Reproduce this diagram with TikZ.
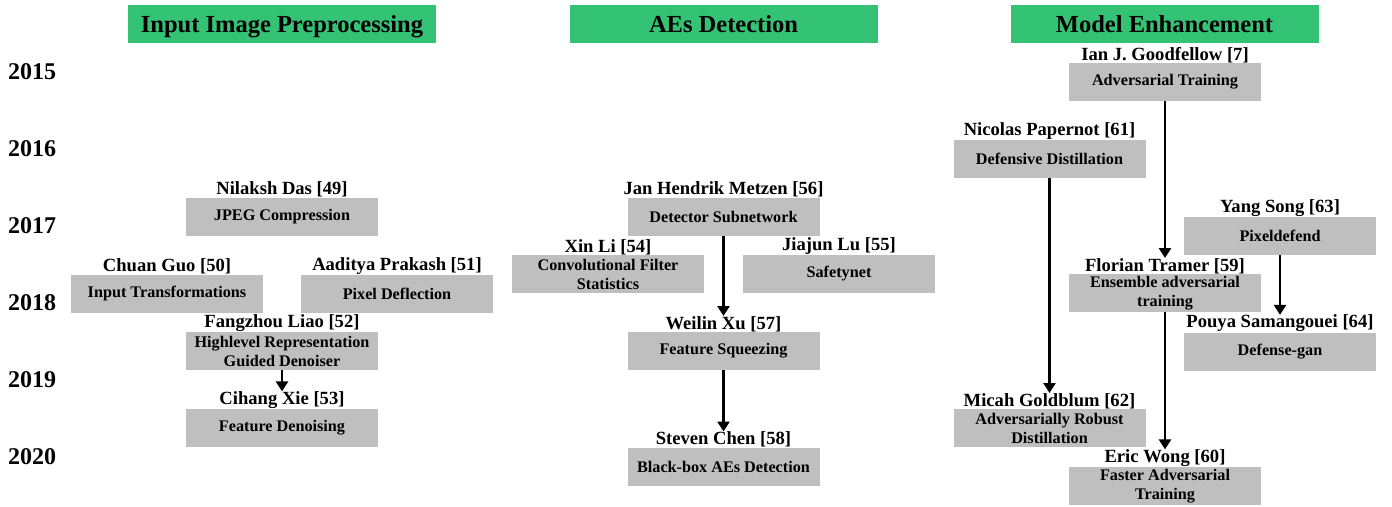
\documentclass[tikz,border=0pt]{standalone}
\usepackage{fontspec}
\setmainfont{Liberation Serif}
\usetikzlibrary{positioning,arrows.meta}
\definecolor{headgreen}{RGB}{52,194,117}
\definecolor{boxgray}{RGB}{191,191,191}
\tikzset{
	head/.style={fill=headgreen, minimum width=308, minimum height=38, inner sep=0pt,
		text depth=0pt, font=\fontsize{24.5}{26}\selectfont\bfseries},
	work/.style={fill=boxgray, minimum width=192, minimum height=38, inner sep=0pt,
		align=center, font=\fontsize{16.2}{19}\selectfont\bfseries},
	who/.style={inner sep=0pt, font=\fontsize{18.6}{20}\selectfont\bfseries},
	yearlbl/.style={anchor=west, inner sep=0pt, font=\fontsize{24}{26}\selectfont\bfseries},
	link/.style={-{Triangle[width=12pt,length=10pt]}, line width=2.8pt}
}
\begin{document}
\begin{tikzpicture}[x=1pt, y=-1pt]
			\useasboundingbox (0,0) rectangle (1392,506);
			% column titles
			\node[head] (colpre) at (282,24) {Input Image Preprocessing};
			\node[head] (coldet) at (723.5,24) {AEs Detection};
			\node[head] (colenh) at (1164.5,24) {Model Enhancement};
			% years down the left side
			\foreach \yr [count=\i from 0] in {2015,...,2020}
				\node[yearlbl] (y\yr) at (8, 72+77*\i) {\yr};
			% input image preprocessing
			\node[work] (jpeg) at (282,216.5) {JPEG Compression};
			\node[work] (trans) at (167,293.5) {Input Transformations};
			\node[work] (deflect) at (397,293.5) {Pixel Deflection};
			\node[work] (hgd) at (282,351) {Highlevel Representation\\Guided Denoiser};
			\node[work] (fdenoise) at (282,428) {Feature Denoising};
			\node[who, above=0pt of jpeg] (das) {Nilaksh Das [49]};
			\node[who, above=0pt of trans] (guo) {Chuan Guo [50]};
			\node[who, above=0pt of deflect] (prakash) {Aaditya Prakash [51]};
			\node[who, above=0pt of hgd] (liao) {Fangzhou Liao [52]};
			\node[who, above=0pt of fdenoise] (xie) {Cihang Xie [53]};
			\draw[link] (hgd) -- (xie);
			% AEs detection
			\node[work] (detsub) at (723.5,216.5) {Detector Subnetwork};
			\node[work] (convstat) at (608,274) {Convolutional Filter\\Statistics};
			\node[work] (safety) at (839,274) {Safetynet};
			\node[work] (squeeze) at (723.5,351) {Feature Squeezing};
			\node[work] (blackbox) at (723.5,466.5) {Black-box AEs Detection};
			\node[who, above=0pt of detsub] (metzen) {Jan Hendrik Metzen [56]};
			\node[who, above=0pt of convstat] (li) {Xin Li [54]};
			\node[who, above=0pt of safety] (lu) {Jiajun Lu [55]};
			\node[who, above=0pt of squeeze] (xu) {Weilin Xu [57]};
			\node[who, above=0pt of blackbox] (chen) {Steven Chen [58]};
			\draw[link] (detsub) -- (xu);
			\draw[link] (squeeze) -- (chen);
			% model enhancement
			\node[work] (advtrain) at (1165,82) {Adversarial Training};
			\node[work] (defdist) at (1049.5,159) {Defensive Distillation};
			\node[work] (pixdef) at (1280,236) {Pixeldefend};
			\node[work] (ensemble) at (1165,293) {Ensemble adversarial\\training};
			\node[work] (defgan) at (1280,351.5) {Defense-gan};
			\node[work] (robdist) at (1049.5,428) {Adversarially Robust\\Distillation};
			\node[work] (faster) at (1165,486) {Faster Adversarial\\Training};
			\node[who, above=0pt of advtrain] (goodfellow) {Ian J. Goodfellow [7]};
			\node[who, above=0pt of defdist] (papernot) {Nicolas Papernot [61]};
			\node[who, above=0pt of pixdef] (song) {Yang Song [63]};
			\node[who, above=0pt of ensemble] (tramer) {Florian Tramer [59]};
			\node[who, above=0pt of defgan] (samangouei) {Pouya Samangouei [64]};
			\node[who, above=0pt of robdist] (goldblum) {Micah Goldblum [62]};
			\node[who, above=0pt of faster] (wong) {Eric Wong [60]};
			\draw[link] (advtrain) -- (tramer);
			\draw[link] (defdist) -- (goldblum);
			\draw[link] (pixdef) -- (samangouei);
			\draw[link] (ensemble) -- (wong);
		\end{tikzpicture}
\end{document}
